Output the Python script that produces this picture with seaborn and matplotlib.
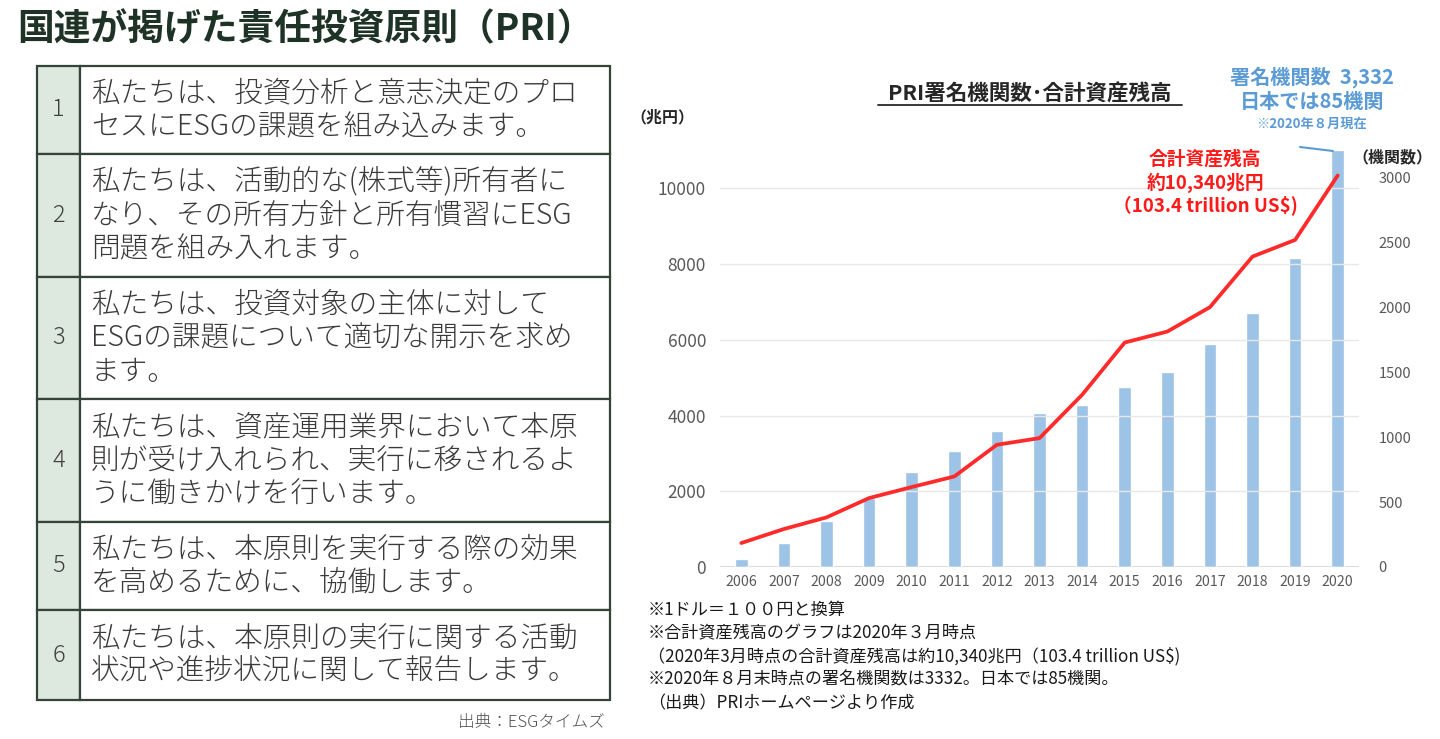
import numpy as np
import pandas as pd
import seaborn as sns
import matplotlib.pyplot as plt
from matplotlib.patches import Rectangle
from matplotlib.lines import Line2D

# DATA
years = [str(y) for y in range(2006, 2021)]
signatories = [59, 182, 357, 529, 734, 891, 1050, 1186, 1250, 1386, 1504, 1717, 1959, 2380, 3211]
assets = [633, 1003, 1310, 1821, 2111, 2391, 3228, 3404, 4547, 5928, 6218, 6862, 8198, 8638, 10340]

principle_nums = ['1', '2', '3', '4', '5', '6']
principle_texts = [
    "私たちは、投資分析と意志決定のプロ\nセスにESGの課題を組み込みます。",
    "私たちは、活動的な(株式等)所有者に\nなり、その所有方針と所有慣習にESG\n問題を組み入れます。",
    "私たちは、投資対象の主体に対して\nESGの課題について適切な開示を求め\nます。",
    "私たちは、資産運用業界において本原\n則が受け入れられ、実行に移されるよ\nうに働きかけを行います。",
    "私たちは、本原則を実行する際の効果\nを高めるために、協働します。",
    "私たちは、本原則の実行に関する活動\n状況や進捗状況に関して報告します。",
]
footnotes = [
    "※1ドル＝１００円と換算",
    "※合計資産残高のグラフは2020年３月時点",
    "（2020年3月時点の合計資産残高は約10,340兆円（103.4 trillion US$)",
    "※2020年８月末時点の署名機関数は3332。日本では85機関。",
    "（出典）PRIホームページより作成",
]

df = pd.DataFrame({'year': years, 'signatories': signatories, 'assets': assets})
df['pos'] = np.arange(len(df))

sns.set_theme(style="white")
plt.rcParams['font.family'] = ['Noto Sans CJK JP', 'DejaVu Sans']

W, H = 1440, 739
fig = plt.figure(figsize=(W / 100, H / 100), dpi=100)
fig.patch.set_facecolor('white')


def pixel_layer(z):
    # full-figure axes in pixel coords, y pointing down
    layer = fig.add_axes([0, 0, 1, 1], zorder=z)
    layer.set_xlim(0, W)
    layer.set_ylim(H, 0)
    layer.axis('off')
    layer.patch.set_visible(False)
    return layer


bg = pixel_layer(0)

bg.text(305, 30, "国連が掲げた責任投資原則（PRI）", ha='center', va='center',
        fontsize=26.5, fontweight='bold', color='#1e3326')

# TABLE
row_edges = [66, 154, 277, 399, 522, 610, 700]
border = '#34443a'
for i, (num, txt) in enumerate(zip(principle_nums, principle_texts)):
    top, bot = row_edges[i], row_edges[i + 1]
    bg.add_patch(Rectangle((37, top), 43, bot - top, facecolor='#dde8de',
                           edgecolor=border, lw=1.6))
    bg.add_patch(Rectangle((80, top), 530, bot - top, facecolor='white',
                           edgecolor=border, lw=1.6))
    mid = (top + bot) / 2
    bg.text(58.5, mid, num, ha='center', va='center', fontsize=17,
            fontweight='light', color='#404040')
    bg.text(91, mid, txt, ha='left', va='center', fontsize=20.6, fontweight='light',
            color='#3a3a3a', linespacing=1.13)

bg.text(605, 722, "出典：ESGタイムズ", ha='right', va='center', fontsize=12,
        fontweight='light', color='#505050')

# CHART
ax = fig.add_axes([720 / W, 1 - 567 / H, 639 / W, (567 - 140) / H], zorder=1)
sns.barplot(data=df, x='year', y='signatories', color='#9dc3e6', width=0.3,
            saturation=1, ax=ax)
ax2 = ax.twinx()
sns.lineplot(data=df, x='pos', y='assets', color='#ff2b2b', lw=2.7, ax=ax2)

ax.set_xlim(-0.5, len(years) - 0.5)
ax.set_xticks(df['pos'], years)
ax.set_ylim(0, 3291)
ax2.set_ylim(0, 11277)

# bar axis on right, asset axis on left
ax.yaxis.tick_right()
ax.yaxis.set_label_position('right')
ax2.yaxis.tick_left()
ax2.yaxis.set_label_position('left')
ax.set_yticks(range(0, 3001, 500))
ax2.set_yticks(range(0, 10001, 2000))
ax2.yaxis.grid(True, color='#e8e8e8', lw=1)
ax2.set_zorder(2)
ax.patch.set_visible(False)
ax2.patch.set_visible(False)

for a in (ax, ax2):
    for s in a.spines.values():
        s.set_visible(False)
    a.set_xlabel('')
    a.set_ylabel('')
ax.axhline(0, color='#d0d0d0', lw=1.2, zorder=0)

ax.tick_params(axis='y', labelsize=10.5, colors='#595959', length=0, pad=14)
ax.tick_params(axis='x', labelsize=10.2, colors='#595959', length=0, pad=6)
ax2.tick_params(axis='y', labelsize=12.5, colors='#595959', length=0, pad=10)

# annotations on top of the chart
top = pixel_layer(5)

top.text(1030, 93, "PRI署名機関数･合計資産残高", ha='center', va='center',
         fontsize=15.5, fontweight='bold', color='#262626')
top.add_line(Line2D([878, 1182], [105, 105], color='#262626', lw=1.3))
top.text(662, 117, "（兆円）", ha='center', va='center', fontsize=11.5,
         fontweight='bold', color='#262626')
top.text(1392, 157, "（機関数）", ha='center', va='center', fontsize=11.5,
         fontweight='bold', color='#262626')

top.text(1205, 183, "合計資産残高\n約10,340兆円\n（103.4 trillion US$)", ha='center',
         va='center', fontsize=13.5, fontweight='bold', color='#ff1a1a', linespacing=1.2)

blue = '#5b9bd5'
top.text(1312, 77, "署名機関数  3,332", ha='center', va='center', fontsize=14.5,
         fontweight='bold', color=blue)
top.text(1312, 101, "日本では85機関", ha='center', va='center', fontsize=14.5,
         fontweight='bold', color=blue)
top.text(1312, 124, "※2020年８月現在", ha='center', va='center', fontsize=9.5,
         fontweight='bold', color=blue)
top.add_line(Line2D([1300, 1333], [147, 151], color=blue, lw=1.5))

for i, line in enumerate(footnotes):
    top.text(648, 610 + i * 23.3, line, ha='left', va='center', fontsize=12.3,
             color='#1a1a1a')

fig.savefig('out.png', dpi=100, facecolor='white')
